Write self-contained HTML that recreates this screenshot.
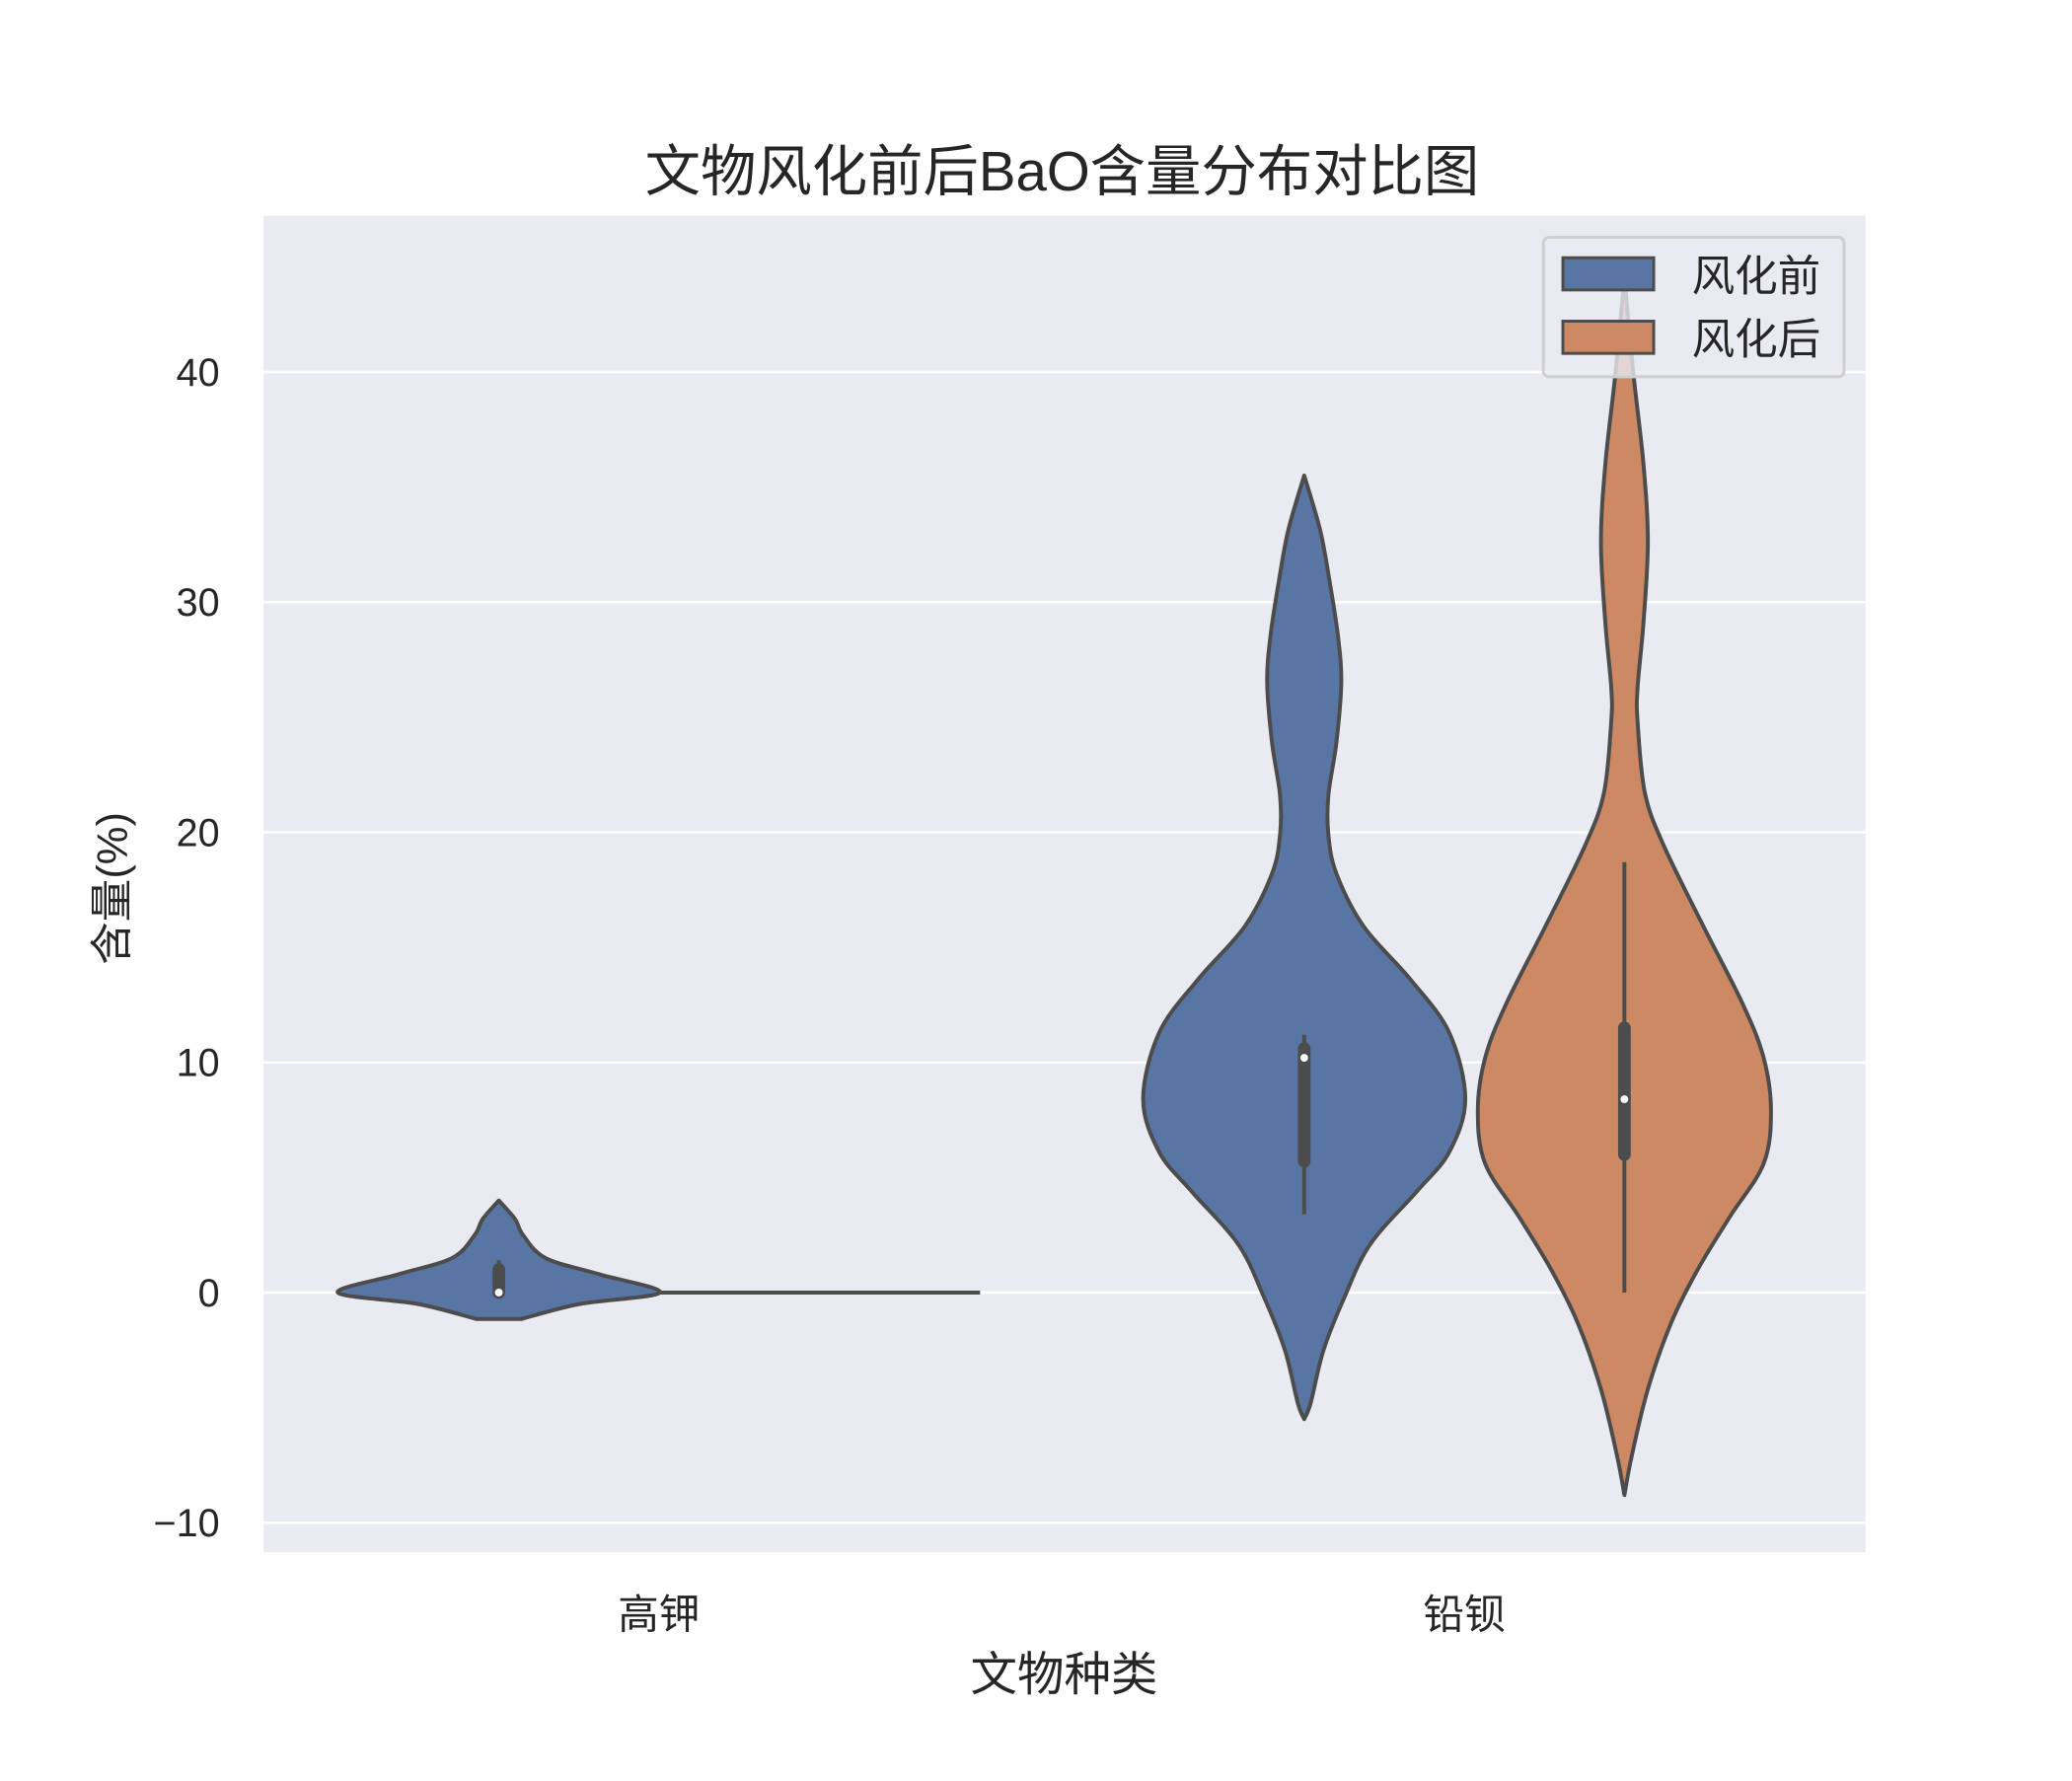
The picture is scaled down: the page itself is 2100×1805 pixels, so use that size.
<!DOCTYPE html>
<html><head><meta charset="utf-8"><style>
html,body{margin:0;padding:0;background:#fff}
svg text{font-family:"Liberation Sans","Noto Sans CJK SC",sans-serif;fill:#262626}
</style></head><body>
<svg id="chart" width="2100" height="1800" xmlns="http://www.w3.org/2000/svg">
<g transform="scale(0.9894)">
<rect x="270" y="221" width="1641" height="1369" fill="#eaeaf2"/>
<g id="grid"></g>
<g id="violins"></g>
<g id="ticks"></g>
<text x="1088" y="195" font-size="57" text-anchor="middle">文物风化前后BaO含量分布对比图</text>
<text x="1090" y="1732" font-size="48" text-anchor="middle">文物种类</text>
<text transform="translate(130,910) rotate(-90)" font-size="44" text-anchor="middle">含量(%)</text>
<g>
<rect x="1581" y="243" width="308" height="143" rx="6" fill="#eaeaf2" fill-opacity="0.8" stroke="#cfcfcf" stroke-width="3"/>
<rect x="1601" y="264" width="93" height="33" fill="#5975a4" stroke="#4c4c4c" stroke-width="3"/>
<text x="1733" y="298" font-size="44">风化前</text>
<rect x="1601" y="329" width="93" height="33" fill="#cc8963" stroke="#4c4c4c" stroke-width="3"/>
<text x="1733" y="363" font-size="44">风化后</text>
</g>
</g>
</svg>
<script>
const categories = ["高钾","铅钡"];
const yTicks = [-10,0,10,20,30,40];
const kBeforeY = [4,3.2,2.5,1.5,0.8,0,-0.5,-1.15];
const kBeforeW = [0,0.1,0.15,0.29,0.62,1,0.5,0.14];
const pBeforeY = [35.5,33.1,30.8,28.5,26.5,23.9,21.6,19.9,18.2,15.9,13.6,11.3,8.4,6.1,4.4,2.1,-0.2,-2.5,-4.8,-5.5];
const pBeforeW = [0,0.1,0.16,0.21,0.23,0.2,0.15,0.15,0.2,0.37,0.66,0.9,1,0.9,0.7,0.41,0.25,0.12,0.04,0];
const pAfterY = [44.1,40,36,32.6,29.1,26.3,24.8,21.7,19.4,15.9,12.5,10.2,7.9,5.6,3.3,1,-1.3,-4.2,-7.1,-8.8];
const pAfterW = [0,0.06,0.13,0.16,0.13,0.09,0.09,0.14,0.27,0.54,0.81,0.95,1,0.95,0.72,0.5,0.32,0.16,0.05,0];
const kAfterValue = [0];
const kBeforeBox = [-0.1,0,0,1.0,1.4];
const pBeforeBox = [3.4,5.7,10.2,10.6,11.2];
const pAfterBox = [0,6,8.4,11.5,18.7];
const kBeforeScale = 1.0, pBeforeScale = 1.0, pAfterScale = 0.91;

const NS="http://www.w3.org/2000/svg";
const L=270,R=1911,T=221,B=1590;
const y=v=>1324-v*23.575;
const catX=i=>675+i*825;
const hueOff=h=>h===0?-164:164;
const HALF=165;
function mk(tag,attrs,parent){const e=document.createElementNS(NS,tag);for(const k in attrs)e.setAttribute(k,attrs[k]);parent.appendChild(e);return e;}
const grid=document.getElementById('grid'),vg=document.getElementById('violins'),tg=document.getElementById('ticks');
yTicks.forEach(t=>{
  const ln=mk('line',{x1:L,x2:R,y1:y(t),y2:y(t),stroke:'#fff','stroke-width':2.5},grid);
  
  
  const tx=mk('text',{x:225,y:y(t)+14,'font-size':40,'text-anchor':'end'},tg);
  tx.textContent=t<0?'\u2212'+Math.abs(t):String(t);
  
  
});
categories.forEach((c,i)=>{
  const tx=mk('text',{x:catX(i),y:1668,'font-size':42,'text-anchor':'middle'},tg);
  tx.textContent=c;
  
  
});
function smooth(pts){
  let d='M'+pts[0][0]+','+pts[0][1];
  for(let i=0;i<pts.length-1;i++){
    const p0=pts[Math.max(0,i-1)],p1=pts[i],p2=pts[i+1],p3=pts[Math.min(pts.length-1,i+2)];
    const c1=[p1[0]+(p2[0]-p0[0])/6,p1[1]+(p2[1]-p0[1])/6];
    const c2=[p2[0]-(p3[0]-p1[0])/6,p2[1]-(p3[1]-p1[1])/6];
    d+='C'+c1[0]+','+c1[1]+' '+c2[0]+','+c2[1]+' '+p2[0]+','+p2[1];
  }
  return d;
}
function violin(cx,ys,ws,scale,color,name){
  const right=ys.map((v,i)=>[cx+ws[i]*HALF*scale,y(v)]);
  const left=ys.map((v,i)=>[cx-ws[i]*HALF*scale,y(v)]).reverse();
  let d=smooth(right)+'L'+left[0][0]+','+left[0][1]+smooth(left).replace(/^M[^C]*/,'')+'Z';
  const p=mk('path',{d:d,fill:color,stroke:'#4c4c4c','stroke-width':4,'stroke-linejoin':'round'},vg);
  
  
}
function box(cx,b,name){
  const w=mk('line',{x1:cx,x2:cx,y1:y(b[0]),y2:y(b[4]),stroke:'#4c4c4c','stroke-width':4},vg);
  
  
  const bx=mk('line',{x1:cx,x2:cx,y1:y(b[1]),y2:y(b[3]),stroke:'#4c4c4c','stroke-width':13,'stroke-linecap':'round'},vg);
  
  
  const m=mk('circle',{cx:cx,cy:y(b[2]),r:4,fill:'#fff'},vg);
  
  
}
violin(catX(0)+hueOff(0),kBeforeY,kBeforeW,kBeforeScale,'#5975a4','violin-gaojia-before');
box(catX(0)+hueOff(0),kBeforeBox,'gaojia-before');
const sx=catX(0)+hueOff(1);
const sl=mk('line',{x1:sx-HALF,x2:sx+HALF,y1:y(kAfterValue[0]),y2:y(kAfterValue[0]),stroke:'#4c4c4c','stroke-width':4},vg);


violin(catX(1)+hueOff(0),pBeforeY,pBeforeW,pBeforeScale,'#5975a4','violin-qianbei-before');
box(catX(1)+hueOff(0),pBeforeBox,'qianbei-before');
violin(catX(1)+hueOff(1),pAfterY,pAfterW,pAfterScale,'#cc8963','violin-qianbei-after');
box(catX(1)+hueOff(1),pAfterBox,'qianbei-after');
</script>
</body></html>
